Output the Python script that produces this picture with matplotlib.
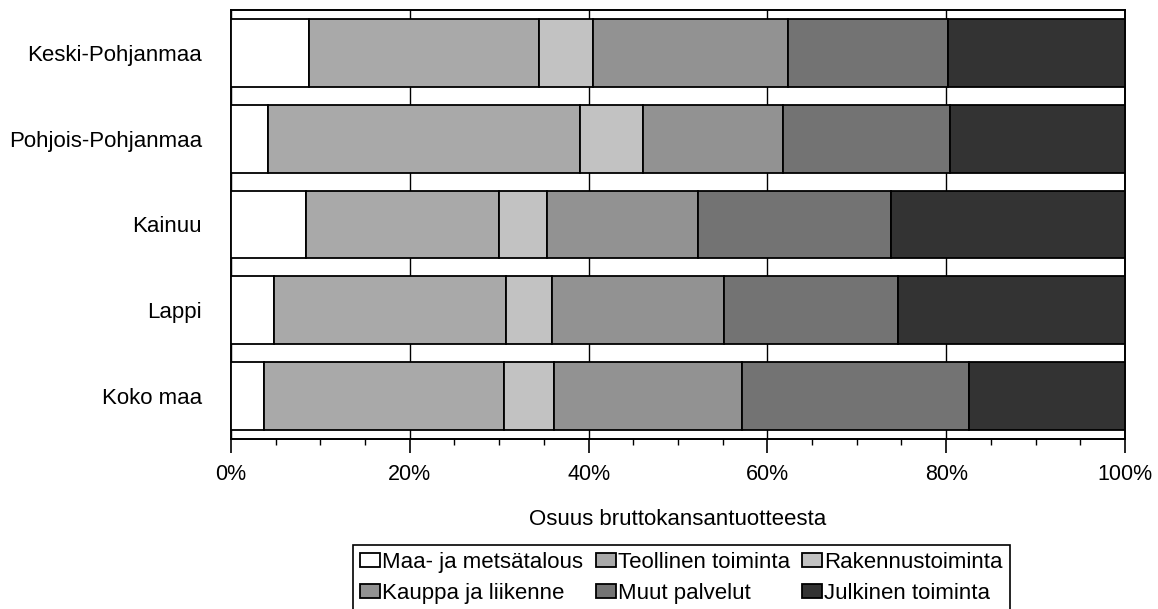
import matplotlib
matplotlib.use("Agg")
import matplotlib.pyplot as plt
from matplotlib.ticker import MultipleLocator, PercentFormatter
import numpy as np

plt.rcParams["font.family"] = ["Liberation Sans", "DejaVu Sans"]

# regions, top to bottom
regions = ["Keski-Pohjanmaa", "Pohjois-Pohjanmaa", "Kainuu", "Lappi", "Koko maa"]

# share of GDP by sector (%)
maa = [8.7, 4.1, 8.4, 4.8, 3.7]
teollinen = [25.8, 34.9, 21.6, 26.0, 26.8]
rakennus = [6.0, 7.1, 5.3, 5.1, 5.6]
kauppa = [21.8, 15.6, 16.9, 19.2, 21.1]
muut = [17.9, 18.7, 21.6, 19.5, 25.3]
julkinen = [19.8, 19.6, 26.2, 25.4, 17.5]

sectors = [
    ("Maa- ja metsätalous", maa, "#ffffff"),
    ("Teollinen toiminta", teollinen, "#a9a9a9"),
    ("Rakennustoiminta", rakennus, "#c2c2c2"),
    ("Kauppa ja liikenne", kauppa, "#929292"),
    ("Muut palvelut", muut, "#737373"),
    ("Julkinen toiminta", julkinen, "#333333"),
]

fig = plt.figure(figsize=(11.58, 6.09), dpi=100)
ax = fig.add_axes([231 / 1158, 1 - 439 / 609, (1125 - 231) / 1158, 429 / 609])

ys = np.arange(len(regions))
left = np.zeros(len(regions))
handles = []
for label, vals, color in sectors:
    vals = np.array(vals)
    b = ax.barh(ys, vals, left=left, height=0.79, color=color,
                edgecolor="black", linewidth=1.3, label=label, zorder=3)
    handles.append(b)
    left += vals

ax.set_xlim(0, 100)
ax.set_ylim(len(regions) - 0.5, -0.5)
ax.set_yticks(ys)
ax.set_yticklabels(regions, fontsize=16)
ax.tick_params(axis="y", length=0, pad=21)

ax.xaxis.set_major_locator(MultipleLocator(20))
ax.xaxis.set_minor_locator(MultipleLocator(5))
ax.xaxis.set_major_formatter(PercentFormatter(decimals=0))
ax.tick_params(axis="x", which="major", length=10, width=1.2, pad=8, labelsize=15.5)
ax.tick_params(axis="x", which="minor", length=4, width=1.0)
ax.grid(True, axis="x", which="major", color="black", linewidth=1.0, zorder=0)

for s in ax.spines.values():
    s.set_linewidth(1.4)

ax.set_xlabel("Osuus bruttokansantuotteesta", fontsize=16, labelpad=17)

# legend goes row-wise in the original, matplotlib fills columns
order = [0, 3, 1, 4, 2, 5]
leg = fig.legend([handles[i] for i in order], [sectors[i][0] for i in order],
                 ncol=3, loc="upper center",
                 bbox_to_anchor=(681.5 / 1158, 1 - 545 / 609),
                 fontsize=16, handlelength=0.9, handleheight=0.55,
                 handletextpad=0.1, columnspacing=0.55, borderpad=0.3,
                 labelspacing=0.45, borderaxespad=0, fancybox=False,
                 edgecolor="black", framealpha=1)
leg.get_frame().set_linewidth(1.2)

fig.savefig("out.png", dpi=100)
